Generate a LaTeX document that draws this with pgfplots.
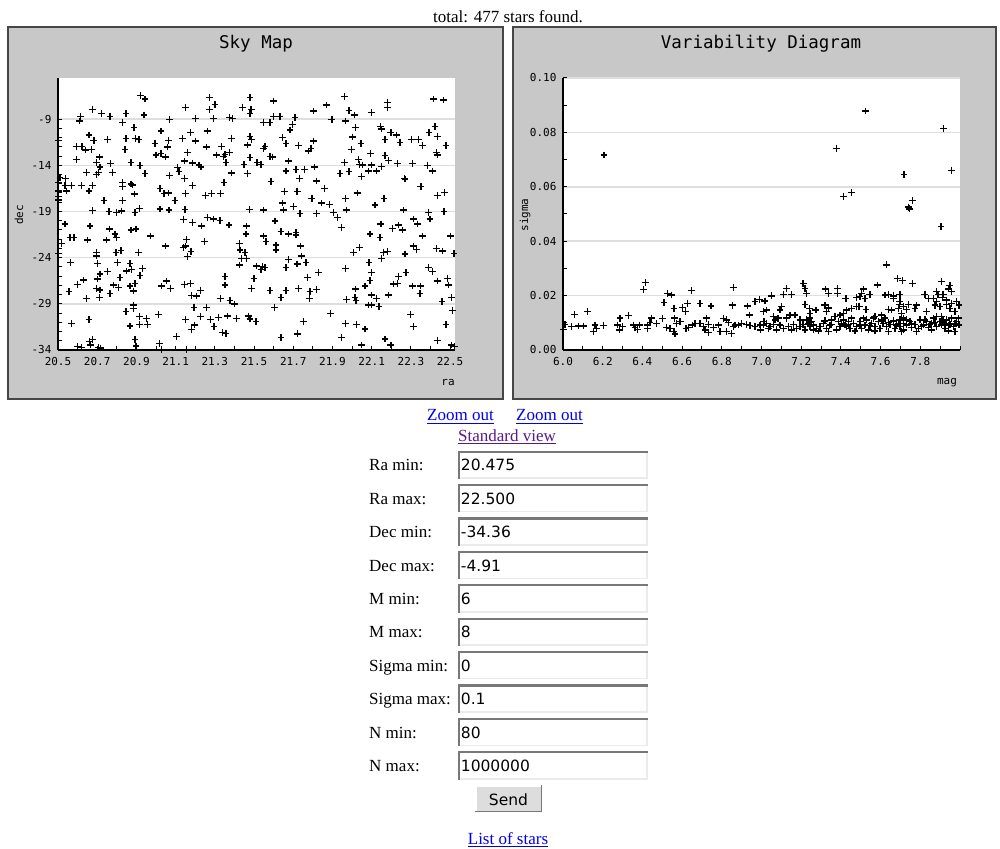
\documentclass[border=0pt]{standalone}
\usepackage{pgfplots}
\pgfplotsset{compat=1.18}
\usepackage{fontspec}
\setmainfont{Liberation Serif}
\newfontfamily\chartfont{DejaVu Sans Mono}
\newfontfamily\sansfnt{DejaVu Sans}
\definecolor{panelgray}{RGB}{200,200,200}
\definecolor{paneledge}{RGB}{70,70,70}
\definecolor{gridgray}{RGB}{222,222,222}
\definecolor{linkblue}{RGB}{0,0,238}
\definecolor{linkvisit}{RGB}{85,26,139}
\definecolor{boxdark}{RGB}{120,120,120}
\definecolor{boxlight}{RGB}{235,235,235}
\definecolor{btnfill}{RGB}{221,221,221}
\pgfplotsset{myax/.style={
  scale only axis, width=397pt, height=272pt, anchor=south west,
  axis lines*=left, axis line style={-, black, line width=1.3pt},
  axis background/.style={fill=white},
  tick align=inside, major tick length=4pt, minor tick length=4pt,
  tick style={black, line width=1pt},
  ymajorgrids, major grid style={draw=gridgray, line width=1.5pt},
  ticklabel style={font=\chartfont\fontsize{11}{13}\selectfont},
  yticklabel style={xshift=-3pt}, xticklabel style={yshift=-4pt},
}}
\begin{document}
\begin{tikzpicture}
\begin{scope}[x=1pt,y=1pt]
\fill[white] (0,0) rectangle (1000,848);
\filldraw[fill=panelgray, draw=paneledge, line width=1.5pt] (8,449) rectangle (503,821);
\filldraw[fill=panelgray, draw=paneledge, line width=1.5pt] (513,449) rectangle (996,821);
\node[anchor=base, inner sep=0, font=\fontsize{17}{20}\selectfont] at (508,825) {total: 477 stars found.};
\node[font=\chartfont\fontsize{17.5}{20}\selectfont] at (256,804) {Sky Map};
\node[font=\chartfont\fontsize{17.5}{20}\selectfont] at (761,804) {Variability Diagram};
\node[font=\chartfont\fontsize{11}{13}\selectfont] at (448,465) {ra};
\node[font=\chartfont\fontsize{11}{13}\selectfont] at (947,465) {mag};
\node[font=\chartfont\fontsize{11}{13}\selectfont, rotate=90] at (19,633) {dec};
\node[font=\chartfont\fontsize{11}{13}\selectfont, rotate=90] at (525,633) {sigma};
% links
\node[anchor=base west, inner sep=0, text=linkblue, font=\fontsize{17}{20}\selectfont] (z1) at (427,427) {Zoom out};
\draw[linkblue, line width=0.9pt] ([yshift=-2pt]z1.base west) -- ([yshift=-2pt]z1.base east);
\node[anchor=base west, inner sep=0, text=linkblue, font=\fontsize{17}{20}\selectfont] (z2) at (516,427) {Zoom out};
\draw[linkblue, line width=0.9pt] ([yshift=-2pt]z2.base west) -- ([yshift=-2pt]z2.base east);
\node[anchor=base west, inner sep=0, text=linkvisit, font=\fontsize{17}{20}\selectfont] (sv) at (458,406.5) {Standard view};
\draw[linkvisit, line width=0.9pt] ([yshift=-2pt]sv.base west) -- ([yshift=-2pt]sv.base east);
% form rows
\foreach \i/\lab/\val in {0/Ra min:/20.475, 1/Ra max:/22.500, 2/Dec min:/-34.36, 3/Dec max:/-4.91, 4/M min:/6, 5/M max:/8, 6/Sigma min:/0, 7/Sigma max:/0.1, 8/N min:/80, 9/N max:/1000000}{
  \pgfmathsetmacro\yb{377-33.4*\i}
  \pgfmathsetmacro\yt{397.3-33.4*\i}
  \pgfmathsetmacro\ybot{369-33.4*\i}
  \fill[white] (457.7,\ybot) rectangle (647.7,\yt);
  \draw[boxlight, line width=1.5pt] (457.7,\ybot+0.75) -- (646.9,\ybot+0.75) -- (646.9,\yt);
  \draw[boxdark, line width=2.2pt] (458.8,\ybot) -- (458.8,\yt-1.1) -- (647.7,\yt-1.1);
  \node[anchor=base west, inner sep=0, font=\fontsize{17}{20}\selectfont] at (369,\yb) {\lab};
  \node[anchor=base west, inner sep=0, font=\sansfnt\fontsize{15.5}{18}\selectfont] at (460.7,\yb) {\val};
}
% button
\fill[btnfill] (475,36) rectangle (542,63);
\draw[white, line width=1.5pt] (475.75,36) -- (475.75,62.25) -- (542,62.25);
\draw[boxdark, line width=1.5pt] (475,36.75) -- (541.25,36.75) -- (541.25,63);
\node[anchor=base, inner sep=0, font=\sansfnt\fontsize{15.5}{18}\selectfont] at (508.5,43) {Send};
\node[anchor=base, inner sep=0, text=linkblue, font=\fontsize{17}{20}\selectfont] (ls) at (508,4) {List of stars};
\draw[linkblue, line width=0.9pt] ([yshift=-2pt]ls.base west) -- ([yshift=-2pt]ls.base east);
\end{scope}

\begin{axis}[myax, at={(58pt,498pt)},
  xmin=20.475, xmax=22.5, ymin=-34.36, ymax=-4.91,
  xtick={20.475,20.675,20.875,21.075,21.275,21.475,21.675,21.875,22.075,22.275,22.475},
  xticklabels={20.5,20.7,20.9,21.1,21.3,21.5,21.7,21.9,22.1,22.3,22.5},
  ytick={-34.36,-29.36,-24.36,-19.36,-14.36,-9.36},
  yticklabels={-34,-29,-24,-19,-14,-9},
  minor x tick num=1, minor y tick num=4]
\addplot[only marks, mark=+, mark size=3.4pt, mark options={line width=1.4pt, black}] coordinates {
(20.897,-6.83) (20.919,-7.19) (21.247,-7.04) (21.276,-7.77) (21.454,-7.04)
(20.652,-8.34) (20.698,-8.78) (20.740,-9.06) (20.822,-8.78) (20.914,-8.92) (21.126,-8.09) (21.247,-8.34) (21.417,-8.09) (21.460,-8.34) (21.454,-8.78)
(20.590,-9.06) (20.584,-9.57) (20.805,-9.71) (21.043,-9.43) (21.177,-9.28) (21.267,-9.28) (21.349,-9.21) (21.366,-9.28)
(20.863,-10.29) (21.000,-10.65) (21.152,-10.80) (21.238,-10.65)
(20.633,-11.09) (20.658,-11.70) (20.727,-11.59) (20.822,-11.45) (20.871,-11.45) (20.888,-11.59) (21.109,-11.45) (21.177,-11.74) (21.361,-11.45) (21.454,-11.23) (21.463,-11.55) (20.477,-11.70)
(20.970,-12.02) (21.038,-11.66) (21.034,-12.39) (20.817,-12.67) (21.233,-12.39) (21.310,-12.31) (21.443,-12.17)
(20.570,-12.35) (20.597,-12.35) (20.616,-12.71) (20.647,-12.67)
(20.570,-13.76) (20.686,-13.47) (20.672,-14.05) (20.689,-14.55) (20.742,-14.19) (20.847,-14.05) (20.893,-14.41) (20.975,-13.25) (21.000,-13.07) (21.022,-13.47) (21.136,-12.96) (21.119,-13.90) (21.160,-14.12) (21.194,-14.33) (21.204,-14.55) (21.284,-13.25) (21.327,-13.18) (21.349,-12.96) (21.332,-14.05) (21.318,-13.43) (21.424,-14.26) (21.454,-13.54)
(20.621,-15.12) (20.672,-15.34) (20.681,-15.12) (20.752,-15.12) (20.919,-15.23) (21.043,-15.49) (21.084,-14.62) (21.092,-15.06) (21.361,-15.19) (21.443,-15.27)
(20.485,-15.71) (20.512,-15.78) (20.478,-16.21) (20.511,-16.57) (20.545,-16.57) (20.596,-16.54) (20.652,-16.57) (20.805,-16.21) (20.805,-16.64) (20.847,-16.39) (20.856,-16.50) (21.119,-15.78) (21.162,-16.54) (21.322,-16.21)
(20.477,-17.15) (20.519,-17.15) (20.633,-17.15) (20.995,-16.86) (21.016,-17.44) (21.038,-17.37) (20.864,-17.47) (21.126,-17.44) (21.227,-17.62) (21.257,-17.44) (21.305,-17.44)
(20.477,-17.76) (20.477,-18.12) (20.710,-18.16) (20.805,-18.20) (21.072,-18.16)
(20.652,-19.27) (20.735,-19.39) (20.774,-19.46) (20.800,-19.31) (20.868,-19.46) (20.890,-19.03) (20.995,-19.10) (21.041,-19.21) (21.123,-19.13) (21.451,-19.13)
(21.935,-6.90) (22.389,-7.19) (22.440,-7.30) (21.573,-7.40) (22.155,-7.55) (22.155,-8.09) (21.845,-7.84) (21.777,-8.49) (21.959,-8.42) (21.986,-8.92) (22.075,-8.63)
(21.522,-9.71) (21.556,-9.71) (21.573,-9.06) (21.607,-9.06) (21.684,-9.21) (21.670,-9.93) (21.658,-10.54) (21.872,-9.43) (21.942,-9.57) (21.993,-10.29) (22.121,-10.17) (22.126,-10.44) (22.173,-10.80) (22.202,-11.09) (22.398,-10.17) (22.367,-10.80) (22.410,-11.23)
(21.621,-11.37) (21.638,-12.02) (21.701,-12.24) (21.777,-11.74) (21.765,-12.52) (21.752,-12.82) (21.531,-12.31) (21.522,-12.52) (21.978,-11.30) (22.020,-12.02) (21.973,-12.67) (22.143,-11.59) (22.219,-11.88) (22.279,-11.59) (22.313,-11.59) (22.333,-12.24) (22.454,-12.24) (22.406,-12.96) (22.410,-13.25)
(21.556,-13.40) (21.570,-13.47) (21.491,-14.05) (21.510,-14.26) (21.650,-13.90) (21.638,-14.98) (21.689,-14.84) (21.733,-14.84) (21.782,-14.55) (21.706,-15.78) (21.794,-16.07) (21.935,-14.05) (22.007,-13.75) (22.012,-14.26) (22.029,-14.33) (22.070,-13.10) (22.075,-14.33) (22.058,-14.98) (22.100,-14.98) (22.126,-14.47) (22.143,-13.32) (22.161,-13.82) (22.206,-14.15) (22.282,-14.15) (22.359,-14.41) (22.384,-14.98) (21.913,-15.23) (21.959,-15.05) (22.024,-15.60) (21.561,-16.14) (22.241,-15.78) (22.245,-15.85) (22.326,-16.68)
(21.631,-17.22) (21.695,-17.22) (21.833,-16.86) (22.003,-17.37) (21.770,-17.94) (21.942,-17.94) (22.138,-17.94) (22.410,-17.65) (22.445,-17.29) (21.619,-18.45) (21.675,-18.84) (21.820,-18.45) (21.859,-18.59) (22.092,-18.66)
(21.522,-19.21) (21.624,-19.21) (21.709,-19.57) (21.794,-19.57) (21.879,-19.46) (21.947,-19.21) (22.236,-19.21) (22.364,-19.46) (22.444,-19.39)
(20.511,-20.72) (20.638,-20.93) (20.737,-21.26) (20.766,-21.80) (20.774,-22.16) (20.847,-21.37) (20.873,-21.26) (20.948,-22.01) (21.114,-20.21) (21.160,-20.57) (21.208,-20.93) (21.237,-19.99) (21.267,-20.17) (21.301,-20.35) (21.347,-20.82) (21.437,-20.93) (21.434,-21.80)
(20.494,-22.81) (20.536,-22.16) (20.556,-22.16) (20.626,-22.45) (20.723,-22.45) (21.024,-23.10) (21.114,-23.24) (21.126,-23.10) (21.131,-22.38) (21.221,-22.63) (21.400,-22.81) (21.403,-23.53) (21.429,-23.82) (21.153,-23.71) (21.136,-24.25) (20.885,-23.78) (20.796,-23.60) (20.771,-23.82) (20.672,-23.82) (20.672,-24.18) (20.477,-23.89)
(20.539,-24.87) (20.677,-24.97) (20.779,-24.87) (20.842,-24.97) (20.851,-25.62) (20.907,-25.52) (20.727,-25.84) (20.689,-26.13) (20.825,-25.80) (20.893,-26.31) (20.791,-26.53) (20.677,-26.67) (20.604,-26.78) (20.575,-27.28) (20.757,-27.32) (20.783,-27.61) (20.672,-27.68) (20.689,-27.86) (20.842,-27.43) (20.868,-27.14) (20.859,-27.97) (21.004,-27.43) (21.029,-26.89) (21.050,-27.72) (21.119,-27.28) (21.152,-27.14) (21.203,-27.93) (21.157,-28.47) (21.182,-28.51) (21.327,-26.42) (21.327,-27.32) (21.400,-25.15) (21.412,-24.43) (21.437,-24.43) (21.463,-27.68) (21.475,-26.60) (21.488,-25.26)
(20.531,-28.04) (20.621,-28.76) (20.686,-28.66) (20.740,-28.22) (20.859,-29.49) (20.859,-29.85) (20.822,-30.21) (20.987,-30.50) (21.169,-29.74) (21.233,-29.74) (21.305,-28.76) (21.352,-29.02) (21.374,-29.38)
(20.545,-31.47) (20.633,-31.04) (20.842,-31.76) (20.890,-30.75) (20.927,-30.93) (20.890,-31.58) (20.931,-31.58) (21.126,-31.04) (21.170,-31.65) (21.157,-32.12) (21.203,-30.75) (21.254,-31.04) (21.293,-30.82) (21.271,-31.83) (21.339,-30.68) (21.386,-30.93) (21.446,-30.68) (21.315,-32.48) (21.332,-32.55) (21.080,-32.91) (21.454,-31.00)
(20.573,-34.00) (20.596,-34.07) (20.635,-33.45) (20.652,-33.20) (20.641,-33.82) (20.681,-34.07) (20.693,-34.14) (20.868,-33.20) (20.873,-33.92) (20.992,-33.64) (21.004,-34.28) (21.131,-34.28)
(21.522,-22.01) (21.536,-22.63) (21.582,-20.39) (21.612,-21.55) (21.650,-21.80) (21.689,-21.65) (21.689,-21.91) (21.587,-22.99) (21.587,-23.53) (21.713,-23.10) (21.718,-24.18) (21.650,-24.54) (21.638,-25.41) (21.695,-25.05) (21.740,-24.90) (21.517,-25.33) (21.531,-25.41) (21.510,-25.62)
(21.922,-21.08) (21.900,-19.99) (22.122,-20.72) (22.180,-21.18) (22.211,-20.82) (22.233,-21.37) (22.287,-20.17) (22.309,-20.72) (22.372,-20.17) (22.333,-22.01) (22.478,-22.01) (22.066,-21.80) (22.117,-22.16)
(21.981,-23.82) (22.012,-23.24) (22.134,-23.82) (22.156,-23.71) (22.126,-24.43) (22.245,-23.96) (22.287,-23.10) (22.304,-23.46) (22.406,-23.35) (22.435,-23.64) (22.495,-23.89) (22.061,-24.90) (22.075,-25.98) (21.942,-25.52) (22.066,-26.85) (22.041,-27.43) (21.993,-27.75) (21.803,-25.95) (21.747,-26.49) (21.701,-27.68) (21.638,-27.93) (21.556,-27.93) (21.612,-28.66) (21.760,-28.04) (21.757,-28.76) (21.794,-27.79)
(21.990,-28.66) (21.995,-29.02) (21.947,-28.87) (22.073,-28.40) (22.100,-28.76) (22.075,-29.49) (22.059,-29.49) (22.112,-29.67) (22.160,-28.40) (22.185,-27.21) (22.206,-27.14) (22.211,-26.42) (22.250,-25.95) (22.282,-27.43) (22.325,-27.43) (22.321,-28.22) (22.364,-25.41) (22.386,-25.88) (22.410,-26.89) (22.461,-26.60) (22.466,-27.32) (22.483,-28.66) (22.434,-29.12) (22.486,-30.10) (22.274,-30.50) (22.287,-31.83) (22.454,-31.61)
(21.578,-29.74) (21.485,-31.29) (21.726,-31.29) (21.866,-30.39) (21.942,-31.47) (21.998,-31.58) (22.041,-32.08) (21.697,-32.55) (21.697,-32.62) (21.612,-33.02) (21.922,-33.02) (22.143,-33.17) (22.410,-33.35) (22.024,-33.82) (22.173,-33.82) (22.483,-33.82) (22.497,-34.00)
};
\end{axis}

\begin{axis}[myax, at={(563pt,498pt)},
  xmin=6, xmax=8, ymin=0, ymax=0.1,
  xtick={6,6.2,6.4,6.6,6.8,7,7.2,7.4,7.6,7.8,8},
  xticklabels={6.0,6.2,6.4,6.6,6.8,7.0,7.2,7.4,7.6,7.8,{}},
  ytick={0,0.02,0.04,0.06,0.08,0.1},
  yticklabels={0.00,0.02,0.04,0.06,0.08,0.10},
  minor x tick num=1, minor y tick num=1]
\addplot[only marks, mark=+, mark size=3.4pt, mark options={line width=1.4pt, black}] coordinates {
(6.207,0.0717) (7.379,0.0741) (7.525,0.0879) (7.918,0.0815) (7.718,0.0646) (7.956,0.0659) (7.412,0.0564) (7.454,0.0580) (7.760,0.0549) (7.740,0.0525) (7.746,0.0519) (7.904,0.0453) (7.631,0.0313)
(6.405,0.0223) (6.417,0.0249) (6.526,0.0207) (6.548,0.0202) (6.648,0.0218) (6.858,0.0230) (6.509,0.0175) (6.559,0.0153) (6.603,0.0157) (6.616,0.0141) (6.628,0.0172) (6.690,0.0172) (6.746,0.0162) (6.855,0.0165) (6.930,0.0162) (6.967,0.0178) (6.989,0.0186) (6.059,0.0131) (6.123,0.0141) (6.287,0.0117) (6.329,0.0126) (6.939,0.0129)
(6.010,0.0094) (6.002,0.0076) (6.044,0.0086) (6.077,0.0088) (6.103,0.0088) (6.161,0.0092) (6.153,0.0067) (6.170,0.0080) (6.203,0.0089) (6.274,0.0092) (6.284,0.0074) (6.299,0.0086) (6.354,0.0092) (6.363,0.0082) (6.385,0.0092) (6.375,0.0076) (6.425,0.0092) (6.425,0.0080) (6.447,0.0117) (6.438,0.0102) (6.472,0.0098) (6.502,0.0115) (6.522,0.0083) (6.539,0.0080) (6.559,0.0067) (6.564,0.0059) (6.561,0.0117) (6.573,0.0098) (6.590,0.0104) (6.620,0.0080) (6.632,0.0082) (6.653,0.0092) (6.665,0.0098) (6.690,0.0098) (6.707,0.0086) (6.724,0.0117) (6.732,0.0094) (6.715,0.0074) (6.732,0.0064) (6.757,0.0082) (6.783,0.0092) (6.791,0.0067) (6.808,0.0115) (6.825,0.0111) (6.833,0.0102) (6.825,0.0067) (6.850,0.0061) (6.858,0.0086) (6.867,0.0092) (6.883,0.0092) (6.900,0.0098) (6.925,0.0094) (6.942,0.0089) (6.967,0.0086) (6.993,0.0092)
(7.686,0.0263) (7.711,0.0255) (7.761,0.0245) (7.907,0.0251) (7.583,0.0239) (7.210,0.0245) (7.219,0.0227) (7.126,0.0227) (7.323,0.0224) (7.336,0.0208) (7.382,0.0227) (7.382,0.0208) (7.513,0.0224) (7.504,0.0208) (7.110,0.0205) (7.152,0.0205) (7.227,0.0208) (7.051,0.0199) (7.017,0.0180) (7.425,0.0190) (7.479,0.0194) (7.496,0.0196) (7.521,0.0190) (7.546,0.0205) (7.622,0.0202) (7.639,0.0205) (7.664,0.0199) (7.697,0.0205) (7.664,0.0190) (7.697,0.0178) (7.823,0.0205) (7.840,0.0190) (7.882,0.0215) (7.890,0.0205) (7.915,0.0205) (7.912,0.0194) (7.941,0.0224) (7.958,0.0215) (7.949,0.0237) (7.865,0.0190) (7.882,0.0178) (7.932,0.0184) (7.958,0.0172) (7.983,0.0178) (7.995,0.0165)
(7.101,0.0159) (7.093,0.0147) (7.026,0.0147) (7.009,0.0141) (7.059,0.0123) (7.219,0.0168) (7.241,0.0153) (7.244,0.0135) (7.274,0.0147) (7.319,0.0165) (7.336,0.0155) (7.328,0.0141) (7.429,0.0147) (7.454,0.0153) (7.479,0.0159) (7.492,0.0159) (7.526,0.0149) (7.412,0.0135) (7.395,0.0129) (7.639,0.0149) (7.655,0.0147) (7.689,0.0153) (7.694,0.0168) (7.714,0.0159) (7.739,0.0168) (7.731,0.0149) (7.706,0.0135) (7.714,0.0117) (7.781,0.0165) (7.773,0.0153) (7.832,0.0141) (7.874,0.0165) (7.899,0.0159) (7.932,0.0168) (7.949,0.0153) (7.974,0.0141) (7.143,0.0129) (7.168,0.0129) (7.126,0.0117) (7.571,0.0123) (7.605,0.0129)
(6.996,0.0074) (7.009,0.0092) (7.026,0.0098) (7.042,0.0086) (7.059,0.0094) (7.068,0.0111) (7.093,0.0092) (7.110,0.0080) (7.135,0.0086) (7.160,0.0094) (7.177,0.0080) (7.194,0.0086) (7.210,0.0094) (7.227,0.0111) (7.235,0.0098) (7.244,0.0086) (7.252,0.0104) (7.261,0.0092) (7.277,0.0080) (7.294,0.0086) (7.311,0.0098) (7.328,0.0080) (7.345,0.0092) (7.353,0.0111) (7.370,0.0123) (7.387,0.0104) (7.395,0.0086) (7.420,0.0092) (7.437,0.0104) (7.445,0.0080) (7.462,0.0098) (7.479,0.0086) (7.496,0.0104) (7.504,0.0080) (7.521,0.0092) (7.529,0.0111) (7.555,0.0098) (7.571,0.0086) (7.588,0.0104) (7.597,0.0080) (7.613,0.0098) (7.622,0.0117) (7.630,0.0086) (7.647,0.0094) (7.664,0.0107) (7.672,0.0080) (7.689,0.0098) (7.697,0.0086) (7.714,0.0074) (7.731,0.0092) (7.748,0.0104) (7.756,0.0082) (7.773,0.0094) (7.790,0.0080) (7.798,0.0111) (7.815,0.0092) (7.832,0.0104) (7.840,0.0082) (7.857,0.0098) (7.865,0.0117) (7.882,0.0086) (7.899,0.0104) (7.907,0.0092) (7.924,0.0080) (7.932,0.0111) (7.949,0.0094) (7.966,0.0086) (7.983,0.0104) (7.995,0.0092) (7.993,0.0117)
(7.034,0.0080) (7.076,0.0074) (7.152,0.0074) (7.219,0.0074) (7.286,0.0070) (7.378,0.0074) (7.471,0.0070) (7.538,0.0074) (7.639,0.0067) (7.706,0.0067) (7.781,0.0067) (7.857,0.0074) (7.941,0.0070) (7.974,0.0067)
(7.012,0.0104) (7.084,0.0117) (7.194,0.0111) (7.412,0.0111) (7.454,0.0117) (7.513,0.0117) (7.605,0.0111) (7.731,0.0111) (7.882,0.0123) (7.958,0.0117) (7.244,0.0117) (7.319,0.0107) (7.563,0.0117) (7.697,0.0111) (7.823,0.0111) (7.907,0.0123)
(7.261,0.0074) (7.336,0.0067) (7.429,0.0086) (7.571,0.0070) (7.714,0.0098) (7.806,0.0086) (7.924,0.0098)
(7.244,0.0102) (7.353,0.0094) (7.404,0.0098) (7.437,0.0094) (7.496,0.0092) (7.546,0.0089) (7.639,0.0102) (7.681,0.0092) (7.756,0.0098) (7.848,0.0094) (7.874,0.0102) (7.915,0.0107) (7.941,0.0089) (7.974,0.0098)
};
\end{axis}
\end{tikzpicture}
\end{document}
